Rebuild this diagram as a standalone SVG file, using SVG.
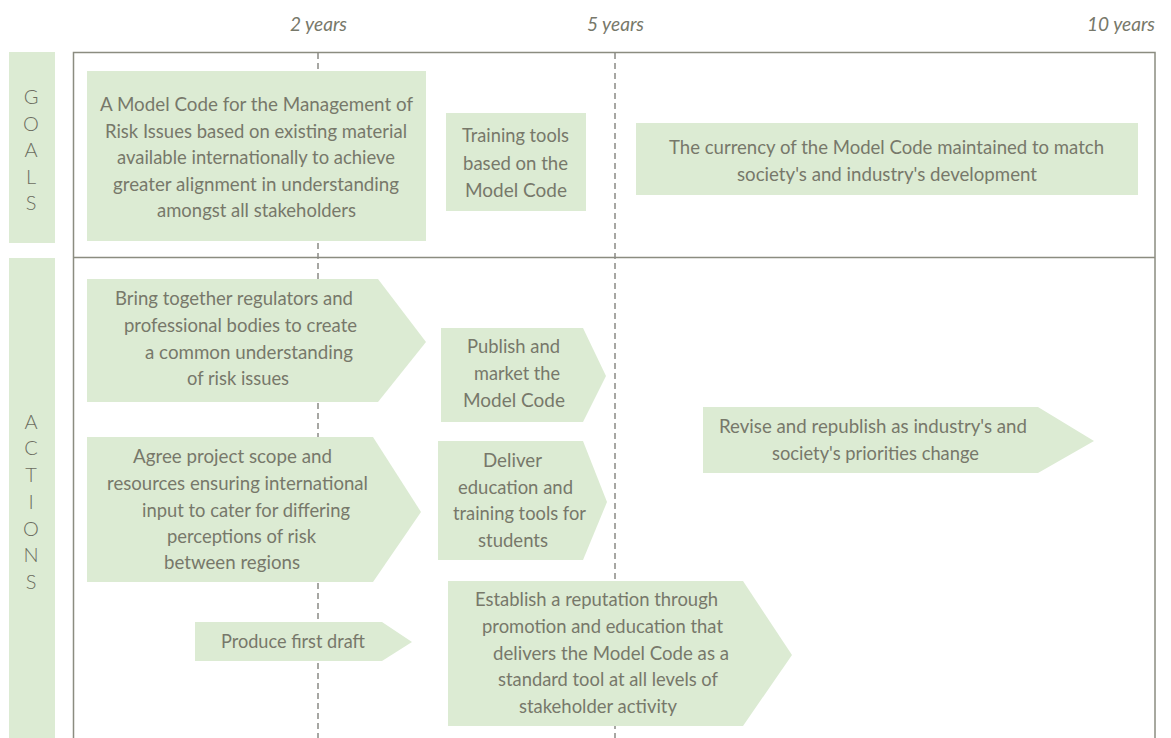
<svg xmlns="http://www.w3.org/2000/svg" width="1171" height="738" viewBox="0 0 1171 738">
<style>
.bg{fill:#ffffff}
.box{fill:#dcebd3;stroke:none}
.t{font-family:Lato,"Open Sans","Liberation Sans",sans-serif;font-size:19px;fill:#77786a}
.yr{font-family:Lato,"Open Sans","Liberation Sans",sans-serif;font-size:19px;font-style:italic;fill:#77786a}
.lab{font-family:Lato,"Open Sans","Liberation Sans",sans-serif;font-size:20px;font-weight:300;fill:#6c6d60;text-anchor:middle}
.frame{fill:none;stroke:#8b8c80;stroke-width:1.5}
.guide{stroke:#8a8a85;stroke-width:1.5;stroke-dasharray:6 4;fill:none}
</style>
<rect class="bg" x="0" y="0" width="1171" height="738"/>

<g id="timescale">
<text class="yr" x="290" y="31" textLength="57" lengthAdjust="spacingAndGlyphs">2 years</text>
<text class="yr" x="587" y="31" textLength="57" lengthAdjust="spacingAndGlyphs">5 years</text>
<text class="yr" x="1087" y="31" textLength="68" lengthAdjust="spacingAndGlyphs">10 years</text>
</g>

<g id="frame">
<rect class="frame" x="73.5" y="52.5" width="1081.5" height="700"/>
<line class="frame" x1="73.5" y1="257.5" x2="1155" y2="257.5"/>
</g>

<g id="guides">
<line class="guide" x1="318" y1="53" x2="318" y2="738"/>
<line class="guide" x1="615" y1="53" x2="615" y2="738"/>
</g>

<g id="goals-label">
<rect class="box" x="9" y="52" width="46" height="191"/>
<text class="lab" x="31" y="104">G</text>
<text class="lab" x="31" y="130.5">O</text>
<text class="lab" x="31" y="157">A</text>
<text class="lab" x="31" y="183.5">L</text>
<text class="lab" x="31" y="210">S</text>
</g>

<g id="actions-label">
<rect class="box" x="9" y="258" width="46" height="480"/>
<text class="lab" x="31" y="428.5">A</text>
<text class="lab" x="31" y="455.3">C</text>
<text class="lab" x="31" y="482">T</text>
<text class="lab" x="31" y="508.8">I</text>
<text class="lab" x="31" y="535.5">O</text>
<text class="lab" x="31" y="562.3">N</text>
<text class="lab" x="31" y="589">S</text>
</g>

<g id="goal-model-code">
<rect class="box" x="87" y="71" width="339" height="170"/>
<text class="t" x="100" y="111" textLength="313" lengthAdjust="spacingAndGlyphs">A Model Code for the Management of</text>
<text class="t" x="105" y="137.5" textLength="302" lengthAdjust="spacingAndGlyphs">Risk Issues based on existing material</text>
<text class="t" x="117" y="164" textLength="278" lengthAdjust="spacingAndGlyphs">available internationally to achieve</text>
<text class="t" x="113" y="190.5" textLength="286" lengthAdjust="spacingAndGlyphs">greater alignment in understanding</text>
<text class="t" x="157" y="217" textLength="199" lengthAdjust="spacingAndGlyphs">amongst all stakeholders</text>
</g>

<g id="goal-training-tools">
<rect class="box" x="446" y="113" width="140" height="98"/>
<text class="t" x="462" y="142" textLength="107" lengthAdjust="spacingAndGlyphs">Training tools</text>
<text class="t" x="463" y="169.5" textLength="105" lengthAdjust="spacingAndGlyphs">based on the</text>
<text class="t" x="465" y="197" textLength="102" lengthAdjust="spacingAndGlyphs">Model Code</text>
</g>

<g id="goal-currency">
<rect class="box" x="636" y="123" width="502" height="72"/>
<text class="t" x="669" y="154" textLength="435" lengthAdjust="spacingAndGlyphs">The currency of the Model Code maintained to match</text>
<text class="t" x="737" y="181" textLength="300" lengthAdjust="spacingAndGlyphs">society's and industry's development</text>
</g>

<g id="action-bring-together">
<polygon class="box" points="87,279 378,279 426,342 378,402 87,402"/>
<text class="t" x="115" y="305" textLength="238" lengthAdjust="spacingAndGlyphs">Bring together regulators and</text>
<text class="t" x="124" y="332" textLength="233" lengthAdjust="spacingAndGlyphs">professional bodies to create</text>
<text class="t" x="145" y="358.5" textLength="208" lengthAdjust="spacingAndGlyphs">a common understanding</text>
<text class="t" x="187" y="385" textLength="102" lengthAdjust="spacingAndGlyphs">of risk issues</text>
</g>

<g id="action-agree-scope">
<polygon class="box" points="87,437 373,437 421,512 373,582 87,582"/>
<text class="t" x="133" y="463" textLength="199" lengthAdjust="spacingAndGlyphs">Agree project scope and</text>
<text class="t" x="107" y="490" textLength="261" lengthAdjust="spacingAndGlyphs">resources ensuring international</text>
<text class="t" x="142" y="516.5" textLength="208" lengthAdjust="spacingAndGlyphs">input to cater for differing</text>
<text class="t" x="167" y="543" textLength="149" lengthAdjust="spacingAndGlyphs">perceptions of risk</text>
<text class="t" x="164" y="569" textLength="136" lengthAdjust="spacingAndGlyphs">between regions</text>
</g>

<g id="action-first-draft">
<polygon class="box" points="195,622 382,622 412,642 382,661 195,661"/>
<text class="t" x="221" y="648" textLength="144" lengthAdjust="spacingAndGlyphs">Produce first draft</text>
</g>

<g id="action-publish">
<polygon class="box" points="441,328 583,328 606,376 583,422 441,422"/>
<text class="t" x="467" y="353" textLength="93" lengthAdjust="spacingAndGlyphs">Publish and</text>
<text class="t" x="474" y="380" textLength="86" lengthAdjust="spacingAndGlyphs">market the</text>
<text class="t" x="463" y="407" textLength="102" lengthAdjust="spacingAndGlyphs">Model Code</text>
</g>

<g id="action-deliver">
<polygon class="box" points="438,441 583,441 607,502 583,560 438,560"/>
<text class="t" x="483" y="467" textLength="59" lengthAdjust="spacingAndGlyphs">Deliver</text>
<text class="t" x="458" y="493.5" textLength="115" lengthAdjust="spacingAndGlyphs">education and</text>
<text class="t" x="453" y="520" textLength="133" lengthAdjust="spacingAndGlyphs">training tools for</text>
<text class="t" x="478" y="547" textLength="70" lengthAdjust="spacingAndGlyphs">students</text>
</g>

<g id="action-establish">
<polygon class="box" points="448,581 743,581 792,655 743,726 448,726"/>
<text class="t" x="475" y="606" textLength="243" lengthAdjust="spacingAndGlyphs">Establish a reputation through</text>
<text class="t" x="482" y="633" textLength="241" lengthAdjust="spacingAndGlyphs">promotion and education that</text>
<text class="t" x="493" y="660" textLength="236" lengthAdjust="spacingAndGlyphs">delivers the Model Code as a</text>
<text class="t" x="498" y="686" textLength="220" lengthAdjust="spacingAndGlyphs">standard tool at all levels of</text>
<text class="t" x="519" y="713" textLength="158" lengthAdjust="spacingAndGlyphs">stakeholder activity</text>
</g>

<g id="action-revise">
<polygon class="box" points="703,407 1038,407 1094,441 1038,473 703,473"/>
<text class="t" x="719" y="433" textLength="308" lengthAdjust="spacingAndGlyphs">Revise and republish as industry's and</text>
<text class="t" x="772" y="460" textLength="207" lengthAdjust="spacingAndGlyphs">society's priorities change</text>
</g>
</svg>
